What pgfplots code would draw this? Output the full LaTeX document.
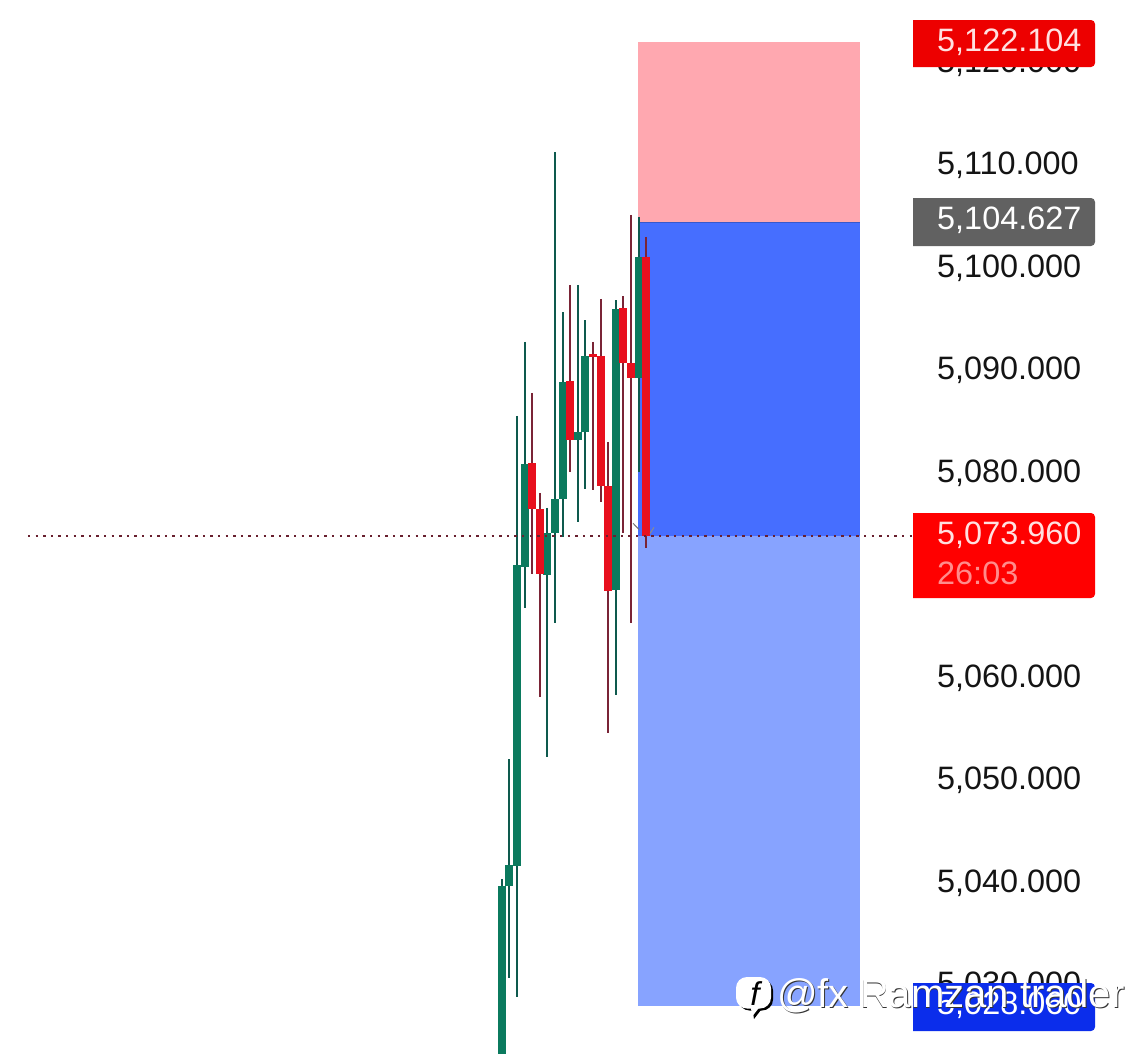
\documentclass[border=0pt]{standalone}
\usepackage{pgfplots}
\usepackage{pgfplotstable}
\usepackage{fontspec}
\setmainfont{Liberation Sans}
\pgfplotsset{compat=1.18}
\definecolor{gbody}{HTML}{0B7A5E}
\definecolor{gwick}{HTML}{0E5A4E}
\definecolor{rbody}{HTML}{E8101E}
\definecolor{rwick}{HTML}{7A2436}
\definecolor{tp}{HTML}{FFA8B0}
\definecolor{zone}{HTML}{466EFF}
\definecolor{zonel}{HTML}{87A3FF}
\definecolor{pillblue}{HTML}{0B2DEB}
\pgfplotstableread{
x open close high low
502 5022.84 5039.81 5040.50 5022.84
509 5039.81 5041.86 5052.20 5030.84
517 5041.76 5071.13 5085.67 5028.98
525 5070.94 5080.98 5092.89 5066.94
555 5074.25 5077.57 5111.42 5065.47
547 5070.16 5074.25 5076.69 5052.40
563 5077.57 5088.98 5095.81 5073.86
578 5083.33 5084.11 5098.45 5075.33
585 5084.11 5091.52 5095.03 5078.55
616 5068.69 5096.11 5096.98 5058.45
639 5089.37 5101.18 5105.08 5080.20
}\greencandles
\pgfplotstableread{
x open close high low
532 5081.08 5076.59 5087.91 5070.25
540 5076.59 5070.25 5078.16 5058.25
570 5089.08 5083.33 5098.45 5080.20
593 5091.72 5091.42 5092.89 5078.45
601 5091.52 5078.84 5097.08 5077.28
608 5078.84 5068.59 5083.13 5054.74
623 5096.20 5090.84 5097.37 5074.25
631 5090.84 5089.37 5105.28 5065.47
646 5101.18 5073.96 5103.13 5072.79
}\redcandles
\newcommand{\lab}[3]{%
  \fill[#3] (axis cs:913,#1) -- (axis cs:1091,#1) to[out=0,in=90] (axis cs:1095,#1+4) -- (axis cs:1095,#2-4) to[out=-90,in=0] (axis cs:1091,#2) -- (axis cs:913,#2) -- cycle;}
\begin{document}
\begin{tikzpicture}[x=1pt,y=1pt]
\path[use as bounding box] (0,0) rectangle (1137pt,1053pt);
\begin{axis}[
  at={(0pt,0pt)}, anchor=south west,
  scale only axis, width=930pt, height=1053pt,
  xmin=0, xmax=930, ymin=5023.52, ymax=5126.25,
  xtick=\empty,
  ytick={5030,5040,5050,5060,5080,5090,5100,5110,5120},
  yticklabel pos=right, major tick length=0pt,
  axis line style={draw=none},
  yticklabel style={font=\fontsize{32.4}{38}\selectfont, text=black!92, yshift=1pt, xshift=3.5pt,
    /pgf/number format/fixed, /pgf/number format/fixed zerofill, /pgf/number format/precision=3,
    /pgf/number format/1000 sep={,}, /pgf/number format/assume math mode=true},
  clip=true,
]
\addplot[fill=tp, draw=none] coordinates {(638,5122.104)(860,5122.104)(860,5104.627)(638,5104.627)} -- cycle;
\addplot[fill=zone, draw=none] coordinates {(638,5104.627)(860,5104.627)(860,5073.96)(638,5073.96)} -- cycle;
\addplot[fill=zonel, draw=none] coordinates {(638,5073.96)(860,5073.96)(860,5028.06)(638,5028.06)} -- cycle;
\addplot[color=zone!80!black, line width=1.5pt] coordinates {(638,5104.55)(860,5104.55)};
% wicks
\addplot[draw=none, no markers, forget plot, error bars/.cd, y dir=minus, y explicit, error mark=none, error bar style={color=gwick, line width=2.6pt}]
  table[x=x, y=high, y error minus expr=\thisrow{high}-\thisrow{low}] {\greencandles};
\addplot[draw=none, no markers, forget plot, error bars/.cd, y dir=minus, y explicit, error mark=none, error bar style={color=rwick, line width=2.6pt}]
  table[x=x, y=high, y error minus expr=\thisrow{high}-\thisrow{low}] {\redcandles};
% bodies
\addplot[draw=none, no markers, forget plot, error bars/.cd, y dir=plus, y explicit, error mark=none, error bar style={color=gbody, line width=8pt}]
  table[x=x, y=open, y error plus expr=\thisrow{close}-\thisrow{open}] {\greencandles};
\addplot[draw=none, no markers, forget plot, error bars/.cd, y dir=minus, y explicit, error mark=none, error bar style={color=rbody, line width=7.6pt}]
  table[x=x, y=open, y error minus expr=\thisrow{open}-\thisrow{close}] {\redcandles};
% small drawing marks around the entry
\addplot[color=black!55, line width=1pt] coordinates {(633,5075.2)(639,5074.6)};
\addplot[color=black!45, line width=1pt] coordinates {(650,5074.2)(654,5074.8)};
% last price line
\addplot[color=rwick!85!black, line width=1.6pt, dash pattern=on 2.4pt off 5.2pt] coordinates {(28,5073.96)(913,5073.96)};
\end{axis}
\begin{axis}[
  at={(0pt,0pt)}, anchor=south west,
  scale only axis, width=1137pt, height=1053pt,
  xmin=0, xmax=1137, ymin=0, ymax=1053, y dir=reverse,
  hide axis, clip=false,
]
\addplot[draw=none, forget plot] coordinates {(0,0)(1137,1053)};
\lab{20}{67}{red!93!black}
\lab{198}{246}{black!62}
\lab{513}{598}{red}
\lab{983}{1031}{pillblue}
\tikzset{lt/.style={anchor=west, inner sep=0pt, font=\fontsize{32.4}{38}\selectfont}}
\node[lt, text=red!12!white] at (axis cs:937,42) {5,122.104};
\node[lt, text=white] at (axis cs:937,220) {5,104.627};
\node[lt, text=red!12!white] at (axis cs:937,535) {5,073.960};
\node[lt, text=red!45!white] at (axis cs:937,573) {26:03};
\node[lt, text=white] at (axis cs:937,1005) {5,028.060};
% watermark
\tikzset{wm/.style={anchor=west, inner sep=0pt, font=\fontsize{40}{46}\selectfont}}
\node[wm, text=black!80] at (axis cs:777.8,996.6) {@fx Ramzan trader};
\node[wm, text=white] at (axis cs:777,996) {@fx Ramzan trader};
\fill[black, rounded corners=11pt] (axis cs:738.5,979.5) -- (axis cs:773,979.5) -- (axis cs:773,1010.5) -- (axis cs:738.5,1010.5) -- cycle;
\fill[black] (axis cs:752,1006) -- (axis cs:764,1006) -- (axis cs:754,1019) -- cycle;
\fill[white, rounded corners=11pt] (axis cs:736,977) -- (axis cs:771,977) -- (axis cs:771,1008.5) -- (axis cs:736,1008.5) -- cycle;
\fill[white] (axis cs:750,1004) -- (axis cs:762,1004) -- (axis cs:752.5,1016) -- cycle;
\node[anchor=center, inner sep=0pt, text=black, font=\fontsize{33}{36}\itshape\selectfont] at (axis cs:755,994) {f};
\end{axis}
\end{tikzpicture}
\end{document}
